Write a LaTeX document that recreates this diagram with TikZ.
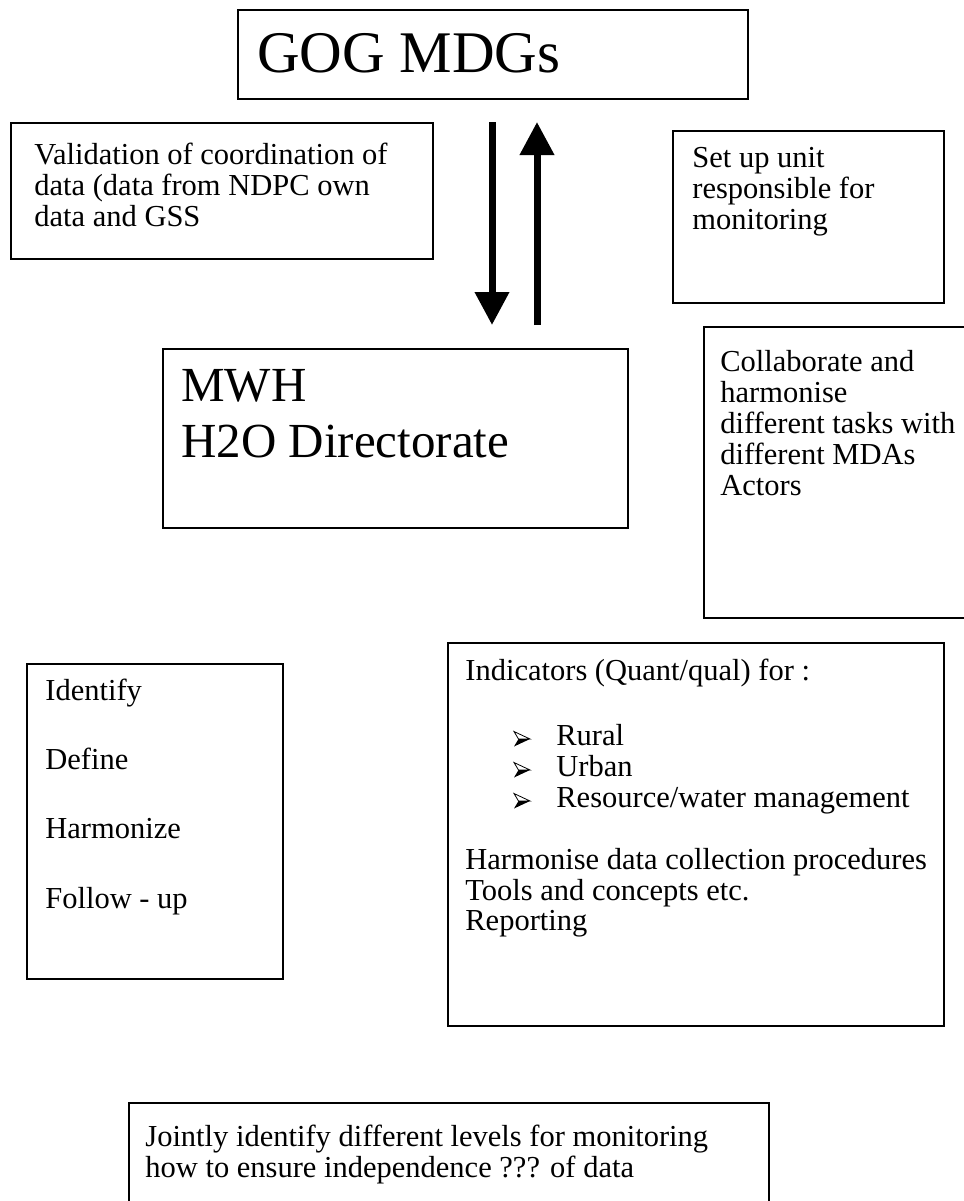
\documentclass[tikz,border=0pt]{standalone}
\usepackage{fontspec}
\setmainfont{Liberation Serif}
\usetikzlibrary{arrows.meta}
\begin{document}
\begin{tikzpicture}[x=0.5pt,y=-0.5pt,
  box/.style={draw=black,line width=0.9pt,fill=white,anchor=north west,inner sep=0pt},
  txt/.style={anchor=base west,inner sep=0pt,font=\fontsize{15.25}{15.5}\selectfont},
  bigtxt/.style={anchor=base west,inner sep=0pt,font=\fontsize{29.5}{34}\selectfont},
  midtxt/.style={anchor=base west,inner sep=0pt,font=\fontsize{24.5}{29.5}\selectfont},
  flow/.style={line width=3.5pt,-{Triangle[width=16.5pt,length=16.5pt]}},
  bul/.style={line width=0.4pt,line join=miter},
]
\useasboundingbox (0,0) rectangle (964,1201);
\clip (0,0) rectangle (964,1201);
\fill[white] (0,0) rectangle (964,1201);

% boxes
\node[box,minimum width=255pt,minimum height=44.5pt] (gog) at (237,9) {};
\node[box,minimum width=211pt,minimum height=68pt] (valid) at (10,122) {};
\node[box,minimum width=135.5pt,minimum height=86pt] (setup) at (672,130) {};
\node[box,minimum width=232.5pt,minimum height=89.5pt] (mwh) at (162,348) {};
\node[box,minimum width=138.5pt,minimum height=145.5pt] (collab) at (703,326) {};
\node[box,minimum width=128pt,minimum height=157.5pt] (ident) at (26,663) {};
\node[box,minimum width=248pt,minimum height=191.5pt] (indic) at (447,642) {};
\node[box,minimum width=320pt,minimum height=60pt] (joint) at (128,1102) {};

% titles
\node[bigtxt] (gogt) at (257,72) {GOG MDGs};
\node[midtxt] (mwh1) at (181,401) {MWH};
\node[midtxt] (mwh2) at (181,457) {H2O Directorate};

% validation
\node[txt] (v1) at (34,164) {Validation of coordination of};
\node[txt] (v2) at (34,195) {data (data from NDPC own};
\node[txt] (v3) at (34,226) {data and GSS};

% set up
\node[txt] (s1) at (692,167) {Set up unit};
\node[txt] (s2) at (692,198) {responsible for};
\node[txt] (s3) at (692,229) {monitoring};

% collaborate
\node[txt] (c1) at (720,371) {Collaborate and};
\node[txt] (c2) at (720,402) {harmonise};
\node[txt] (c3) at (720,433) {different tasks with};
\node[txt] (c4) at (720,464) {different MDAs};
\node[txt] (c5) at (720,495) {Actors};

% identify
\node[txt] (i1) at (45,700) {Identify};
\node[txt] (i2) at (45,769) {Define};
\node[txt] (i3) at (45,838) {Harmonize};
\node[txt] (i4) at (45,908) {Follow - up};

% indicators
\node[txt] (n0) at (465,680) {Indicators (Quant/qual) for :};
\node[txt] (n1) at (556,745) {Rural};
\node[txt] (n2) at (556,776) {Urban};
\node[txt] (n3) at (556,807) {Resource/water management};
\node[txt] (n4) at (465,869) {Harmonise data collection procedures};
\node[txt] (n5) at (465,900) {Tools and concepts etc.};
\node[txt] (n6) at (465,930) {Reporting};

\foreach \yy in {739,770,801} {
  \draw[bul,fill=white] (514,\yy-7.5) -- (530,\yy) -- (518.5,\yy) -- cycle;
  \fill[black] (518.5,\yy) -- (530,\yy) -- (514,\yy+7.5) -- cycle;
}

% jointly
\node[txt] (j1) at (145,1146) {Jointly identify different levels for monitoring};
\node[txt] (j2) at (145,1177) {how to ensure independence ??? of data};

% arrows
\coordinate (dtop) at (492,122);
\coordinate (dbot) at (492,325);
\coordinate (ubot) at (537,325);
\coordinate (utop) at (537,122);
\draw[flow] (dtop) -- (dbot);
\draw[flow] (ubot) -- (utop);
\end{tikzpicture}
\end{document}
